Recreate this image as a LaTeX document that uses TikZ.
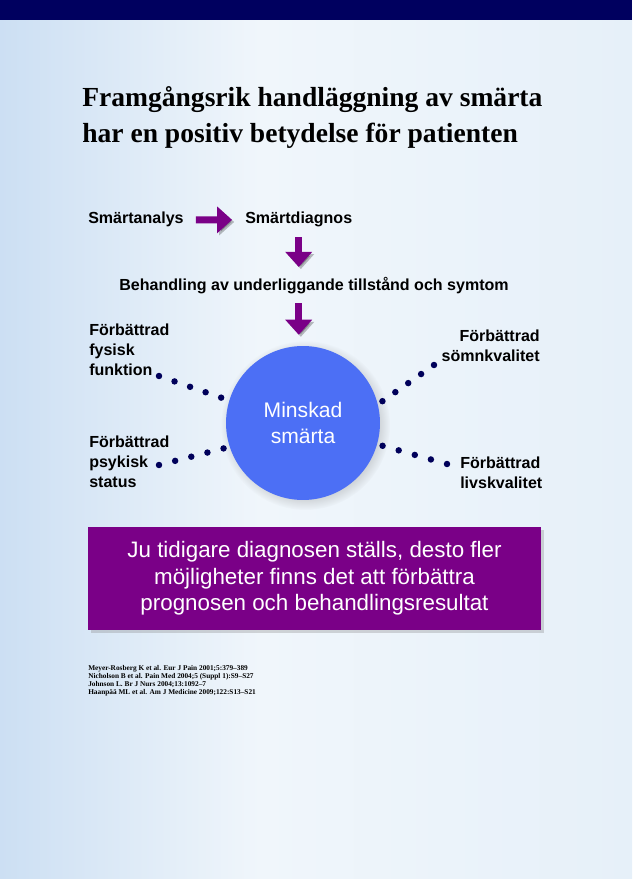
\documentclass[tikz,border=0pt]{standalone}
\usepackage{fontspec}
\setmainfont{Liberation Sans}
\newfontfamily\rubrikfont{Liberation Serif}
\usetikzlibrary{arrows.meta,calc,positioning,shadows}
\definecolor{morkBla}{HTML}{00005F}
\definecolor{lila}{HTML}{7A0087}
\definecolor{cirkelBla}{HTML}{4C6FF5}
\definecolor{bgVanster}{HTML}{CCDFF3}
\definecolor{bgMitt}{HTML}{F0F6FB}
\definecolor{bgHoger}{HTML}{E6F0F9}
\definecolor{prick}{HTML}{00005A}

\begin{document}
\begin{tikzpicture}[x=0.025cm, y=-0.025cm,
  etikett/.style={font=\fontsize{11.4}{14.2}\selectfont\bfseries, inner sep=0pt},
  pil/.style={lila, line width=5pt, -{Triangle[length=10.7pt,width=18.5pt]},
    preaction={draw=black, opacity=.25, transform canvas={xshift=1.5pt,yshift=-1.5pt}}},
  prickar/.style={prick, line width=4.6pt, line cap=round, dash pattern=on 0pt off #1}]
% bakgrund
\shade[left color=bgVanster, right color=bgMitt] (0,0) rectangle (260,879);
\shade[left color=bgMitt, right color=bgHoger] (260,0) rectangle (632,879);
\fill[morkBla] (0,0) rectangle (632,20);

\node[anchor=base west, inner sep=0pt, align=left,
  font=\rubrikfont\bfseries\fontsize{19.6}{26.3}\selectfont] (rubrik) at (82,143)
  {Framgångsrik handläggning av smärta\\har en positiv betydelse för patienten};

\node[etikett, anchor=base west] (analys) at (88,224) {Smärtanalys};
\node[etikett, anchor=base west] (diagnos) at (245,224) {Smärtdiagnos};
\node[etikett, anchor=base] (behandling) at (314,290) {Behandling av underliggande tillstånd och symtom};
\node[circle, fill=cirkelBla, minimum size=109.5pt, inner sep=0pt, text=white, align=center,
  font=\fontsize{15}{18.5}\selectfont,
  circular drop shadow={shadow xshift=1.5pt, shadow yshift=-1.5pt, opacity=.3}] (minskad) at (303,423) {Minskad\\smärta};

\draw[pil, shorten <=8.5pt, shorten >=9.2pt] (analys.east) -- (diagnos.west);
\draw[pil, shorten <=6.8pt, shorten >=6.8pt] (diagnos.south) -- (diagnos.south |- behandling.north);
\draw[pil, shorten <=6.8pt, shorten >=7.8pt] (diagnos.south |- behandling.south) -- (diagnos.south |- minskad.north);

\node[etikett, anchor=base west, align=left] (fysisk) at (89,375) {Förbättrad\\fysisk\\funktion};
\node[etikett, anchor=base west, align=left] (psykisk) at (89,487) {Förbättrad\\psykisk\\status};
\node[etikett, anchor=base east, align=right] (somn) at (540,361) {Förbättrad\\sömnkvalitet};
\node[etikett, anchor=base west, align=left] (livs) at (460,488) {Förbättrad\\livskvalitet};

\coordinate (fysiskStart) at (159,376);
\coordinate (psykiskStart) at (159,465);
\coordinate (somnStart) at (434,365);
\coordinate (livsStart) at (447,464);
\draw[prickar=11.7pt] (fysiskStart) -- (minskad.163.7);
\draw[prickar=11.85pt] (psykiskStart) -- (minskad.198.9);
\draw[prickar=11.2pt] (somnStart) -- (minskad.14.7);
\draw[prickar=11.9pt] (livsStart) -- (minskad.-16.9);

\node[fill=lila, minimum width=322.2pt, minimum height=73.3pt, text=white, align=center,
  font=\fontsize{15.9}{18.8}\selectfont,
  drop shadow={shadow xshift=2pt, shadow yshift=-2pt, opacity=.3}] (budskap) at (314.5,578.5)
  {Ju tidigare diagnosen ställs, desto fler\\möjligheter finns det att förbättra\\prognosen och behandlingsresultat};

\node[anchor=base west, inner sep=0pt, align=left,
  font=\rubrikfont\bfseries\fontsize{5.2}{5.8}\selectfont] (referenser) at (88,694.5)
  {Meyer-Rosberg K et al. Eur J Pain 2001;5:379–389\\
   Nicholson B et al. Pain Med 2004;5 (Suppl 1):S9–S27\\
   Johnson L. Br J Nurs 2004;13:1092–7\\
   Haanpää ML et al. Am J Medicine 2009;122:S13–S21};
\end{tikzpicture}
\end{document}
